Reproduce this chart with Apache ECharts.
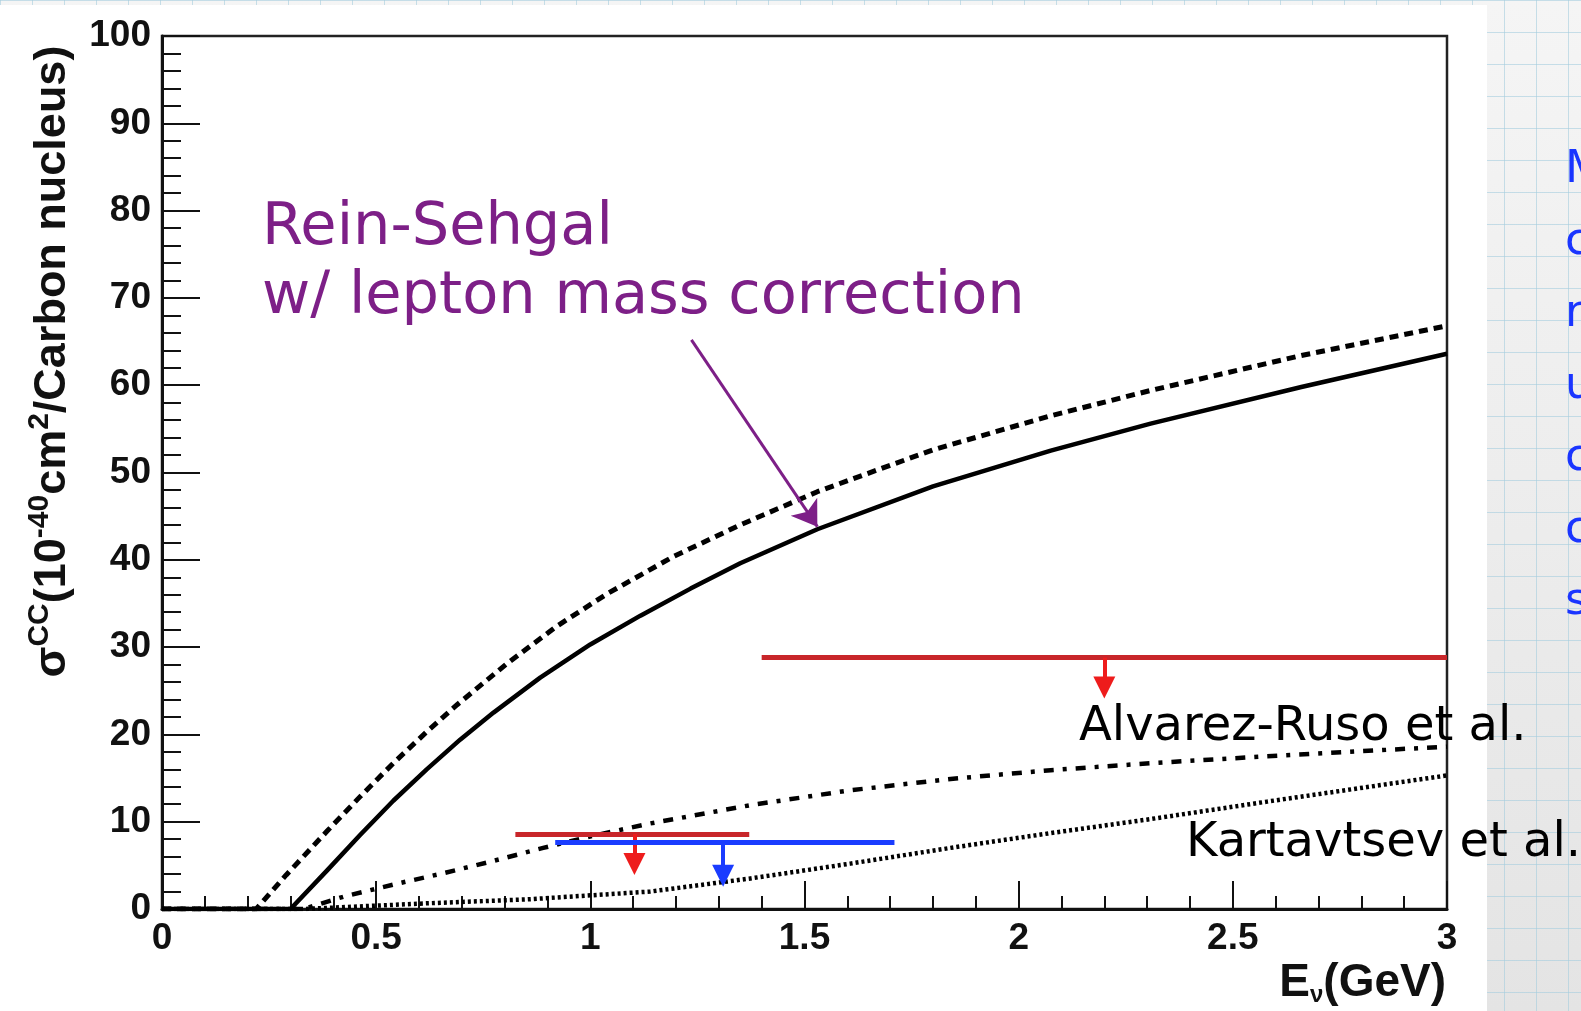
<!DOCTYPE html>
<html><head><meta charset="utf-8">
<script src="https://cdn.jsdelivr.net/npm/echarts@6/dist/echarts.min.js"></script>
<style>
html,body{margin:0;padding:0;width:1581px;height:1011px;overflow:hidden;}
body{background-color:#efefef;
background-image:linear-gradient(rgba(165,205,222,0.6) 1px, transparent 1px),linear-gradient(90deg, rgba(165,205,222,0.6) 1px, transparent 1px),linear-gradient(180deg,#f5f5f5,#e4e4e4);
background-size:32px 32px,32px 32px,100% 100%;}
#chart{width:1581px;height:1011px;}
</style></head>
<body><div id="chart"></div>
<script>
// ---- data (E in GeV, sigma in 1e-40 cm^2 / Carbon nucleus) ----
const eRSCorr = [0, 0.30, 0.385, 0.463, 0.54, 0.618, 0.696, 0.774, 0.883, 1.0, 1.117, 1.234, 1.35, 1.53, 1.80, 2.075, 2.308, 2.66, 3.0];
const sRSCorr = [0, 0, 4.4, 8.5, 12.4, 16.0, 19.4, 22.5, 26.5, 30.3, 33.6, 36.7, 39.6, 43.5, 48.4, 52.5, 55.6, 59.8, 63.6];
const eRS = [0, 0.22, 0.29, 0.385, 0.463, 0.54, 0.618, 0.689, 0.805, 0.922, 1.039, 1.195, 1.35, 1.53, 1.80, 2.075, 2.308, 2.66, 3.0];
const sRS = [0, 0, 3.9, 8.9, 12.9, 16.7, 20.3, 23.4, 28.1, 32.4, 36.1, 40.4, 44.0, 47.8, 52.6, 56.5, 59.4, 63.4, 66.8];
const eAR = [0, 0.33, 0.423, 0.54, 0.657, 0.773, 0.89, 1.007, 1.14, 1.374, 1.607, 1.841, 2.075, 2.308, 2.58, 3.0];
const sAR = [0, 0, 1.4, 2.8, 4.1, 5.5, 7.0, 8.4, 9.8, 11.9, 13.6, 14.9, 15.9, 16.7, 17.5, 18.6];
const eKa = [0, 0.33, 0.618, 0.852, 1.14, 1.374, 1.607, 1.841, 2.075, 2.308, 2.58, 3.0];
const sKa = [0, 0, 0.65, 1.1, 2.0, 3.5, 5.2, 7.0, 8.7, 10.3, 12.3, 15.3];
// upper limits: horizontal bar from eMin to eMax at sigma, arrow at eArrow pointing down to sigma tip
const limEMin = [1.40, 0.825, 0.918];
const limEMax = [3.0, 1.371, 1.71];
const limSigma = [28.8, 8.6, 7.6];
const limEArrow = [2.2, 1.103, 1.31];
const limSigmaTip = [24.1, 3.9, 2.55];
// annotation arrow (data units): from -> to
const noteFrom = [1.236, 65.2];
const noteTo = [1.530, 43.8];
const sideLetters = ['M', 'c', 'n', 'u', 'c', 'c', 's'];

const limBarColors = ['#c8262a', '#c8262a', '#1a3cff'];
const limHeadColors = ['#ee1c1c', '#ee1c1c', '#1a3cff'];
const HEAD_H = 22;       // arrow head height in px
const PX_PER_UNIT = 8.74; // y pixels per sigma unit (grid height / 100)

const pair = (xs, ys) => xs.map((x, i) => [x, ys[i]]);
const chart = echarts.init(document.getElementById('chart'));

const curve = (name, xs, ys, type, width) => ({
  name, type: 'line', data: pair(xs, ys), showSymbol: false, symbol: 'none',
  smooth: false, z: 3,
  lineStyle: {color: '#000', width: width, type: type, cap: 'butt', join: 'round'}
});

const series = [
  curve('RS lepton mass corr', eRSCorr, sRSCorr, 'solid', 4.5),
  curve('RS', eRS, sRS, [9, 6], 5),
  curve('Alvarez-Ruso', eAR, sAR, [10, 9, 4, 9], 4.5),
  curve('Kartavtsev', eKa, sKa, [3, 3], 4.5)
];
limEMin.forEach((e0, i) => {
  series.push({
    type: 'lines', coordinateSystem: 'cartesian2d', z: 4, symbol: 'none',
    lineStyle: {color: limBarColors[i], width: 5, opacity: 1},
    data: [{coords: [[e0, limSigma[i]], [limEMax[i], limSigma[i]]]}]
  });
  // the end symbol is centred on the end point, so lift it by half a head
  const endSigma = limSigmaTip[i] + HEAD_H / 2 / PX_PER_UNIT;
  series.push({
    type: 'lines', coordinateSystem: 'cartesian2d', z: 4, symbol: ['none', 'triangle'], symbolSize: [24, HEAD_H],
    lineStyle: {color: limHeadColors[i], width: 4, opacity: 1},
    data: [{coords: [[limEArrow[i], limSigma[i]], [limEArrow[i], endSigma]]}]
  });
});
series.push({
  type: 'lines', coordinateSystem: 'cartesian2d', z: 5, symbol: ['none', 'arrow'], symbolSize: [18, 24],
  lineStyle: {color: '#7d1f87', width: 3, opacity: 1},
  data: [{coords: [noteFrom, noteTo]}]
});

const axisFont = 'Liberation Sans';
chart.setOption({
  animation: false,
  grid: {left: 162, right: 134, top: 36, bottom: 102, show: true, borderColor: '#222', borderWidth: 2.5,
         outerBoundsMode: 'none', containLabel: false},
  xAxis: {
    type: 'value', min: 0, max: 3, interval: 0.5,
    splitLine: {show: false},
    axisLine: {onZero: false, lineStyle: {color: '#111', width: 3}},
    axisTick: {inside: true, length: 28, lineStyle: {color: '#111', width: 2}},
    minorTick: {show: true, splitNumber: 5, length: 13, lineStyle: {color: '#111', width: 2}},
    axisLabel: {margin: 11, color: '#111', fontFamily: axisFont, fontWeight: 'bold', fontSize: 37},
    name: '{e|E}{sub|ν}{n|(GeV)}', nameLocation: 'end', nameGap: -1,
    nameTextStyle: {align: 'right', verticalAlign: 'top', padding: [50, 0, 0, 0],
      rich: {
        e: {fontFamily: axisFont, fontWeight: 'bold', fontSize: 46, color: '#111', lineHeight: 48, verticalAlign: 'middle'},
        sub: {fontFamily: axisFont, fontWeight: 'bold', fontSize: 24, color: '#111', lineHeight: 48, verticalAlign: 'bottom'},
        n: {fontFamily: axisFont, fontWeight: 'bold', fontSize: 46, color: '#111', lineHeight: 48, verticalAlign: 'middle'}
      }}
  },
  yAxis: {
    type: 'value', min: 0, max: 100, interval: 10,
    splitLine: {show: false},
    axisLine: {onZero: false, lineStyle: {color: '#111', width: 3}},
    axisTick: {inside: true, length: 38, lineStyle: {color: '#111', width: 2}},
    minorTick: {show: true, splitNumber: 5, length: 19, lineStyle: {color: '#111', width: 2}},
    axisLabel: {margin: 11, color: '#111', fontFamily: axisFont, fontWeight: 'bold', fontSize: 37},
    name: '{s|σ}{sup|CC}{n|(10}{sup|-40}{n|cm}{sup|2}{n|/Carbon nucleus)}',
    nameLocation: 'middle', nameGap: 112, nameRotate: 90,
    nameTextStyle: {align: 'center', verticalAlign: 'middle', padding: [0, 0, 0, 222],
      rich: {
        s: {fontFamily: axisFont, fontWeight: 'bold', fontSize: 45, color: '#111', lineHeight: 50, verticalAlign: 'bottom'},
        sup: {fontFamily: axisFont, fontWeight: 'bold', fontSize: 30, color: '#111', lineHeight: 50, verticalAlign: 'top'},
        n: {fontFamily: axisFont, fontWeight: 'bold', fontSize: 45, color: '#111', lineHeight: 50, verticalAlign: 'bottom'}
      }}
  },
  graphic: [
    {type: 'rect', z: -100, silent: true, shape: {x: 0, y: 5, width: 1487, height: 1006}, style: {fill: '#ffffff'}},
    {type: 'text', x: 262, y: 229, z: 10, style: {text: 'Rein-Sehgal', fill: '#7d1f87', fontFamily: 'DejaVu Sans', fontSize: 59, verticalAlign: 'middle'}},
    {type: 'text', x: 262, y: 298, z: 10, style: {text: 'w/ lepton mass correction', fill: '#7d1f87', fontFamily: 'DejaVu Sans', fontSize: 59, verticalAlign: 'middle'}},
    {type: 'text', x: 1079, y: 728, z: 10, style: {text: 'Alvarez-Ruso et al.', fill: '#000', fontFamily: 'DejaVu Sans', fontSize: 48, verticalAlign: 'middle'}},
    {type: 'text', x: 1186, y: 844, z: 10, style: {text: 'Kartavtsev et al.', fill: '#000', fontFamily: 'DejaVu Sans', fontSize: 48, verticalAlign: 'middle'}},
    {type: 'text', x: 1565, y: 134, z: 10, style: {text: sideLetters.join('\n'), fill: '#1a35ff', fontFamily: 'DejaVu Sans', fontSize: 45, lineHeight: 72, verticalAlign: 'top'}}
  ],
  series: series
});
</script>
</body></html>
